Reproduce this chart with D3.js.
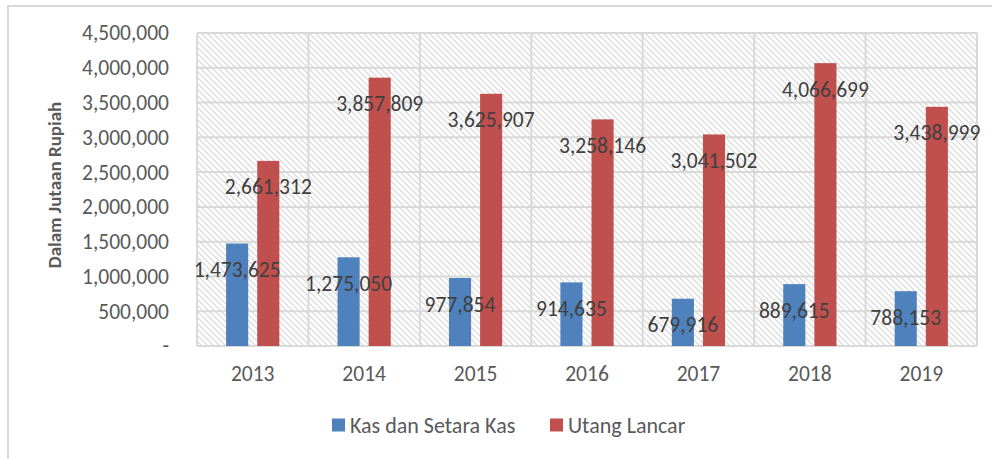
<!DOCTYPE html>
<html lang="en">
<head>
  <meta charset="UTF-8">
  <title>Kas dan Utang Lancar</title>
  <script src="https://cdn.jsdelivr.net/npm/d3@7/dist/d3.min.js"></script>
  <style>
    body { margin: 0; background: #fff; }
    text { font-family: Carlito, Lato, "Open Sans", sans-serif; }
  </style>
</head>
<body>
  <svg id="chart"></svg>
  <script>
    const years = ["2013", "2014", "2015", "2016", "2017", "2018", "2019"];
    const kas = [1473625, 1275050, 977854, 914635, 679916, 889615, 788153];
    const utang = [2661312, 3857809, 3625907, 3258146, 3041502, 4066699, 3438999];
    const seriesNames = ["Kas dan Setara Kas", "Utang Lancar"];
    const colors = ["#4f81bd", "#c0504d"];
    const yTicks = [0, 500000, 1000000, 1500000, 2000000, 2500000, 3000000, 3500000, 4000000, 4500000];

    const W = 992, H = 459;
    const plot = {left: 197, right: 977, top: 33, bottom: 346};
    const fs = "21.5px";

    const svg = d3.select("#chart").attr("width", W).attr("height", H);

    // hatched plot background
    const defs = svg.append("defs");
    const pat = defs.append("pattern").attr("id", "hatch")
      .attr("patternUnits", "userSpaceOnUse").attr("width", 6).attr("height", 6);
    pat.append("path").attr("d", "M0,0 L6,6 M-1,5 L1,7 M5,-1 L7,1")
      .attr("stroke", "#dcdcdc").attr("stroke-width", 1.3);

    // outer border
    svg.append("rect").attr("x", 8).attr("y", 6).attr("width", 1000).attr("height", 500)
      .attr("fill", "none").attr("stroke", "#d9d9d9").attr("stroke-width", 2);

    const x0 = d3.scaleBand().domain(years).range([plot.left, plot.right]).padding(0);
    const x1 = d3.scaleBand().domain(seriesNames).range([0, x0.bandwidth()])
      .paddingInner(0.29).paddingOuter(0.935);
    const y = d3.scaleLinear().domain([0, 4500000]).range([plot.bottom, plot.top]);

    svg.append("rect").attr("x", plot.left).attr("y", plot.top)
      .attr("width", plot.right - plot.left).attr("height", plot.bottom - plot.top)
      .attr("fill", "url(#hatch)");

    // grid
    const grid = svg.append("g").attr("stroke", "#d9d9d9").attr("stroke-width", 2);
    grid.selectAll(".h").data(yTicks).join("line")
      .attr("x1", plot.left).attr("x2", plot.right)
      .attr("y1", d => y(d)).attr("y2", d => y(d));
    grid.selectAll(".v").data(years.concat(["end"])).join("line")
      .attr("x1", d => d === "end" ? plot.right : x0(d))
      .attr("x2", d => d === "end" ? plot.right : x0(d))
      .attr("y1", plot.top).attr("y2", plot.bottom);

    // y axis labels
    const fmt = d3.format(",");
    const yAxis = d3.axisLeft(y).tickValues(yTicks).tickSize(0).tickPadding(0)
      .tickFormat(d => d === 0 ? "-" : fmt(d));
    const ya = svg.append("g").attr("transform", `translate(${169},0)`).call(yAxis);
    ya.select(".domain").remove();
    ya.selectAll("text").attr("fill", "#595959").style("font-size", fs)
      .style("font-family", "Carlito, Lato, 'Open Sans', sans-serif");

    // x axis labels
    const xAxis = d3.axisBottom(x0).tickSize(0).tickPadding(0);
    const xa = svg.append("g").attr("transform", `translate(0,${366})`).call(xAxis);
    xa.select(".domain").remove();
    xa.selectAll("text").attr("fill", "#595959").style("font-size", fs)
      .style("font-family", "Carlito, Lato, 'Open Sans', sans-serif");

    // y title
    svg.append("text")
      .attr("transform", `translate(61,185) rotate(-90)`)
      .attr("text-anchor", "middle").attr("fill", "#595959")
      .style("font-size", "19px").style("font-weight", "bold")
      .text("Dalam Jutaan Rupiah");

    const rows = years.map((yr, i) => ({year: yr, values: [kas[i], utang[i]]}));

    const groups = svg.append("g").selectAll("g").data(rows).join("g")
      .attr("transform", d => `translate(${x0(d.year)},0)`);

    groups.selectAll("rect").data(d => d.values.map((v, k) => ({k, v})))
      .join("rect")
      .attr("x", d => x1(seriesNames[d.k]))
      .attr("width", x1.bandwidth())
      .attr("y", d => y(d.v))
      .attr("height", d => y(0) - y(d.v))
      .attr("fill", d => colors[d.k]);

    groups.selectAll("text.lbl").data(d => d.values.map((v, k) => ({k, v})))
      .join("text").attr("class", "lbl")
      .attr("x", d => x1(seriesNames[d.k]) + x1.bandwidth() / 2)
      .attr("y", d => y(d.v) + 26)
      .attr("dy", "0.35em")
      .attr("text-anchor", "middle")
      .attr("fill", "#404040")
      .style("font-size", fs)
      .text(d => fmt(d.v));

    // legend
    const legend = svg.append("g").attr("transform", `translate(332,425)`);
    const legX = [0, 218];
    seriesNames.forEach((name, k) => {
      const g = legend.append("g").attr("transform", `translate(${legX[k]},0)`);
      g.append("rect").attr("x", 0).attr("y", -6.5).attr("width", 13).attr("height", 13)
        .attr("fill", colors[k]);
      g.append("text").attr("x", 18).attr("dy", "0.35em").attr("fill", "#595959")
        .style("font-size", "22px").text(name);
    });
  </script>
</body>
</html>
